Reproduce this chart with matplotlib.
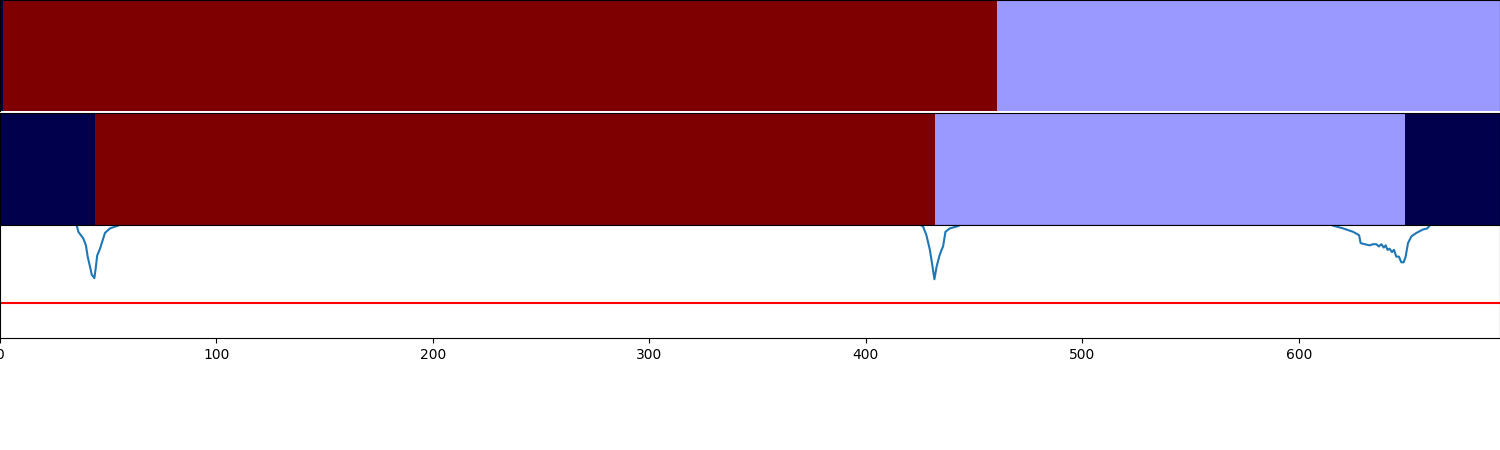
import numpy as np
import matplotlib
matplotlib.use("Agg")
import matplotlib.pyplot as plt

n_frames = 693

# label colours (seismic map: 0 -> navy, 0.4 -> light blue, 1 -> dark red)
label_colors = {0: "#00004c", 1: "#7f0000", 2: "#9999ff"}

# segmentation rows: (start, end, label)
seg_top_start = [0.0, 1.5, 460.5]
seg_top_end = [1.5, 460.5, 693.0]
seg_top_label = [0, 1, 2]

seg_mid_start = [0.0, 43.9, 431.9, 649.0]
seg_mid_end = [43.9, 431.9, 649.0, 693.0]
seg_mid_label = [0, 1, 2, 0]

# novelty / similarity curve (baseline sits above the visible range)
curve_x = [0, 35.4, 36.2, 38.5, 39.7, 40.5, 41.6, 42.4, 43.6, 44.3, 44.9, 46.2,
           48.5, 50.8, 54.6, 60.0,
           421.7, 426.5, 428.0, 429.6, 430.6, 431.7, 432.7, 433.9, 435.0, 435.7,
           436.8, 438.8, 442.6, 448.0,
           609.7, 615.8, 620.5, 625.1, 627.9, 628.6, 630.5, 632.8, 634.3, 635.9,
           637.0, 638.2, 639.3, 640.2, 641.0, 642.0, 643.1, 644.0, 645.1, 646.3,
           647.4, 648.5, 649.4, 650.5, 652.1, 654.4, 657.4, 659.4, 660.5, 665.0,
           693.0]
curve_y = [1.05, 1.0, 0.94, 0.88, 0.82, 0.72, 0.63, 0.56, 0.53, 0.63, 0.73, 0.79,
           0.93, 0.97, 0.995, 1.05,
           1.05, 0.985, 0.91, 0.78, 0.66, 0.52, 0.63, 0.72, 0.78, 0.81,
           0.94, 0.97, 0.99, 1.05,
           1.05, 0.995, 0.97, 0.94, 0.91, 0.84, 0.83, 0.82, 0.83, 0.83,
           0.81, 0.83, 0.80, 0.82, 0.78, 0.79, 0.76, 0.78, 0.72, 0.72,
           0.67, 0.67, 0.72, 0.84, 0.90, 0.93, 0.96, 0.97, 0.995, 1.05,
           1.05]
threshold = 0.31

fig = plt.figure(figsize=(15, 4.5), dpi=100)
ax1 = fig.add_axes([0, 0.7533, 1, 0.2467])
ax2 = fig.add_axes([0, 0.5, 1, 0.2489])
ax3 = fig.add_axes([0, 0.2489, 1, 0.2511])


def draw_segments(ax, starts, ends, labels):
    for s, e, lab in zip(starts, ends, labels):
        ax.broken_barh([(s, e - s)], (0, 1), facecolors=label_colors[lab])
    ax.set_xlim(0, n_frames)
    ax.set_ylim(0, 1)
    ax.set_xticks([])
    ax.set_yticks([])


draw_segments(ax1, seg_top_start, seg_top_end, seg_top_label)
draw_segments(ax2, seg_mid_start, seg_mid_end, seg_mid_label)
ax1.spines["bottom"].set_visible(False)

ax3.plot(curve_x, curve_y, color="tab:blue", lw=1.5)
ax3.axhline(threshold, color="red", lw=1.5)
ax3.set_xlim(0, n_frames)
ax3.set_ylim(0, 1)
ax3.set_yticks([])
ax3.set_xticks(np.arange(0, 700, 100))

fig.savefig("out.png", dpi=100)
